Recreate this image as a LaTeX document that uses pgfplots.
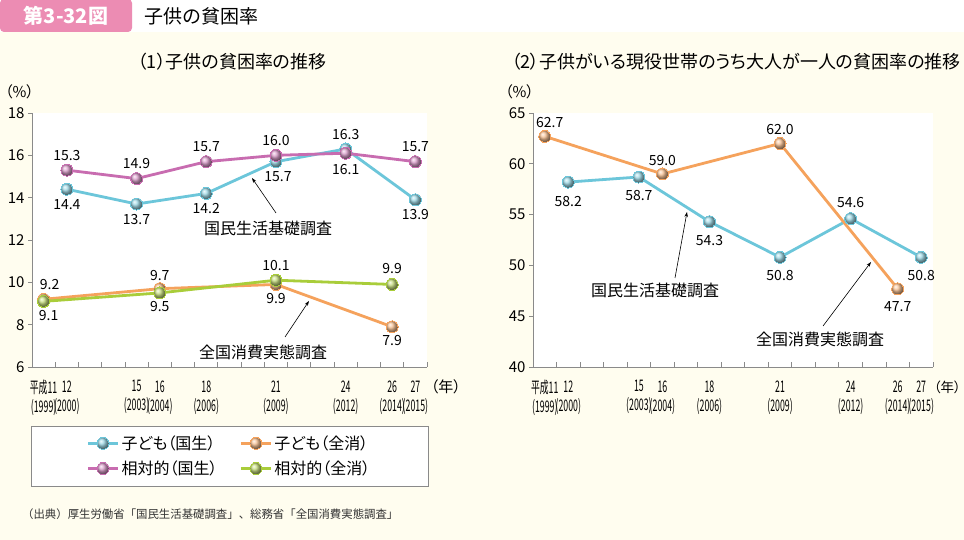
\documentclass[border=0pt]{standalone}
\usepackage{fontspec}
\setmainfont{Noto Sans CJK JP}[RawFeature={+palt}]
\newfontfamily\jpmono{Noto Sans CJK JP}
\usepackage{graphicx}
\usepackage{pgfplots}
\pgfplotsset{compat=1.18}
\usetikzlibrary{arrows.meta}
\definecolor{cream}{HTML}{FFFDEF}
\definecolor{pinkhdr}{HTML}{EC8CB3}
\definecolor{cC}{HTML}{6CC6DA}
\definecolor{cO}{HTML}{F5A25C}
\definecolor{cM}{HTML}{C86CB0}
\definecolor{cG}{HTML}{A9CD3A}
\definecolor{axg}{HTML}{8A8A8A}
\newcommand\fs[1]{\fontsize{#1}{#1}\selectfont}
\newcommand\cx[1]{\scalebox{0.55}[1]{#1}}
\tikzset{lab/.style={font=\fs{14}, inner sep=0pt}}
\pgfplotsset{
 panel/.style={scale only axis, height=254pt, xmin=1998.5, xmax=2015.5,
  axis x line*=bottom, axis y line*=left,
  axis line style={axg, line width=0.8pt, -},
  axis background/.style={fill=white},
  tick align=outside, major tick length=4pt, tick style={axg, line width=0.8pt},
  major x tick style={draw=none},
  xtick={1999,2000,2003,2004,2006,2009,2012,2014,2015},
  xticklabels={{\cx{平成11}\\\cx{(1999)}},{\cx{12}\\\cx{(2000)}},{\cx{15}\\\cx{(2003)}},{\cx{16}\\\cx{(2004)}},{\cx{18}\\\cx{(2006)}},{\cx{21}\\\cx{(2009)}},{\cx{24}\\\cx{(2012)}},{\cx{26}\\\cx{(2014)}},{\cx{27}\\\cx{(2015)}}},
  xticklabel style={align=center, font=\fontsize{16}{19}\selectfont, yshift=-6pt, inner xsep=0pt},
  yticklabel style={font=\fs{15}},
  /pgf/number format/assume math mode=true,
  clip=false,
 },
 ser/.style={line width=2.8pt, color=#1, mark=ball, mark size=6pt, mark options={ball color=#1!65!white, line width=0pt}},
}
\begin{document}
\begin{tikzpicture}
\path[use as bounding box] (0pt,0pt) rectangle (964pt,540pt);
\fill[white] (0pt,508pt) rectangle (964pt,540pt);
\fill[cream] (0pt,0pt) rectangle (964pt,508pt);
\fill[pinkhdr, rounded corners=4pt] (0pt,508pt) rectangle (132pt,541pt);
\node[white, font=\fs{20}\bfseries] at (66pt,524pt) {第3-32図};
\node[anchor=west, font=\jpmono\fs{19}, inner sep=0pt] at (144pt,524pt) {子供の貧困率};
\node[font=\fs{18}] at (232pt,478pt) {（1）子供の貧困率の推移};
\node[anchor=west, font=\fs{18}] at (508pt,478pt) {（2）子供がいる現役世帯のうち大人が一人の貧困率の推移};
\node[font=\fs{15}, anchor=west, inner sep=0pt] at (5pt,448pt) {（\%）};
\node[font=\fs{15}, anchor=west, inner sep=0pt] at (505pt,448pt) {（\%）};
\node[font=\fs{15}, anchor=east, inner sep=0pt] at (461pt,153pt) {（年）};
\node[font=\fs{13.5}, anchor=east, inner sep=0pt] at (961pt,153pt) {（年）};
\draw[axg, line width=0.8pt, fill=white] (31pt,54pt) rectangle (428pt,114pt);
\node[anchor=west, font=\jpmono\fs{11.4}, text=black!80, inner sep=0pt] at (22pt,26pt) {（出典）厚生労働省「国民生活基礎調査」、総務省「全国消費実態調査」};

\begin{axis}[panel, at={(32pt,173pt)}, anchor=south west, width=395pt,
  ymin=6, ymax=18, ytick={6,8,...,18},
  legend columns=2, legend cell align=left,
  legend style={draw=none, fill=none, at={(0.5,-0.35)}, anchor=center, font=\fs{16},
    /tikz/every even column/.append style={column sep=20pt}, row sep=6pt},
  legend image code/.code={\draw[mark repeat=2,mark phase=2,#1] plot coordinates {(0pt,0pt)(15pt,0pt)(30pt,0pt)};},
]
\addplot[ser=cC] coordinates {(2000,14.4)(2003,13.7)(2006,14.2)(2009,15.7)(2012,16.3)(2015,13.9)};
\addlegendentry{子ども（国生）}
\addplot[ser=cO] coordinates {(1999,9.2)(2004,9.7)(2009,9.9)(2014,7.9)};
\addlegendentry{子ども（全消）}
\addplot[ser=cM] coordinates {(2000,15.3)(2003,14.9)(2006,15.7)(2009,16.0)(2012,16.1)(2015,15.7)};
\addlegendentry{相対的（国生）}
\addplot[ser=cG] coordinates {(1999,9.1)(2004,9.5)(2009,10.1)(2014,9.9)};
\addlegendentry{相対的（全消）}
\pgfplotsinvokeforeach{1999.5,2000.5,...,2015.5}{\draw[axg, line width=0.8pt] (axis cs:#1,6) -- ([yshift=5pt]axis cs:#1,6);}
% labels
\node[lab, yshift=-15pt] at (axis cs:2000,14.4) {14.4};
\node[lab, yshift=-15pt] at (axis cs:2003,13.7) {13.7};
\node[lab, yshift=-15pt] at (axis cs:2006,14.2) {14.2};
\node[lab, yshift=-15pt, xshift=2pt] at (axis cs:2009,15.7) {15.7};
\node[lab, yshift=14pt] at (axis cs:2012,16.3) {16.3};
\node[lab, yshift=-15pt] at (axis cs:2015,13.9) {13.9};
\node[lab, yshift=15pt] at (axis cs:2000,15.3) {15.3};
\node[lab, yshift=15pt] at (axis cs:2003,14.9) {14.9};
\node[lab, yshift=15pt] at (axis cs:2006,15.7) {15.7};
\node[lab, yshift=15pt] at (axis cs:2009,16.0) {16.0};
\node[lab, yshift=-16pt] at (axis cs:2012,16.1) {16.1};
\node[lab, yshift=15pt] at (axis cs:2015,15.7) {15.7};
\node[lab, yshift=15pt, xshift=6pt] at (axis cs:1999,9.2) {9.2};
\node[lab, yshift=13pt] at (axis cs:2004,9.7) {9.7};
\node[lab, yshift=-14pt] at (axis cs:2009,9.9) {9.9};
\node[lab, yshift=-14pt] at (axis cs:2014,7.9) {7.9};
\node[lab, yshift=-14pt, xshift=5pt] at (axis cs:1999,9.1) {9.1};
\node[lab, yshift=-14pt] at (axis cs:2004,9.5) {9.5};
\node[lab, yshift=15pt] at (axis cs:2009,10.1) {10.1};
\node[lab, yshift=16pt] at (axis cs:2014,9.9) {9.9};
\end{axis}

\begin{axis}[panel, at={(533pt,173pt)}, anchor=south west, width=400pt,
  ymin=40, ymax=65, ytick={40,45,...,65}]
\addplot[ser=cC] coordinates {(2000,58.2)(2003,58.7)(2006,54.3)(2009,50.8)(2012,54.6)(2015,50.8)};
\addplot[ser=cO] coordinates {(1999,62.7)(2004,59.0)(2009,62.0)(2014,47.7)};
\pgfplotsinvokeforeach{1999.5,2000.5,...,2015.5}{\draw[axg, line width=0.8pt] (axis cs:#1,40) -- ([yshift=5pt]axis cs:#1,40);}
\node[lab, yshift=-19pt] at (axis cs:2000,58.2) {58.2};
\node[lab, yshift=-19pt] at (axis cs:2003,58.7) {58.7};
\node[lab, yshift=-19pt] at (axis cs:2006,54.3) {54.3};
\node[lab, yshift=-18pt] at (axis cs:2009,50.8) {50.8};
\node[lab, yshift=16pt] at (axis cs:2012,54.6) {54.6};
\node[lab, yshift=-18pt] at (axis cs:2015,50.8) {50.8};
\node[lab, yshift=14pt, xshift=5pt] at (axis cs:1999,62.7) {62.7};
\node[lab, yshift=13pt] at (axis cs:2004,59.0) {59.0};
\node[lab, yshift=14pt] at (axis cs:2009,62.0) {62.0};
\node[lab, yshift=-18pt] at (axis cs:2014,47.7) {47.7};
\end{axis}

% annotations
\node[font=\fs{16}] at (268pt,312pt) {国民生活基礎調査};
\draw[-{Stealth[length=5pt,width=3.5pt]}, line width=0.6pt] (276pt,327pt) -- (252pt,362pt);
\node[font=\fs{16}] at (263pt,188pt) {全国消費実態調査};
\draw[-{Stealth[length=5pt,width=3.5pt]}, line width=0.6pt] (285pt,203pt) -- (309pt,239pt);
\node[font=\fs{16}] at (655pt,250pt) {国民生活基礎調査};
\draw[-{Stealth[length=5pt,width=3.5pt]}, line width=0.6pt] (675pt,262pt) -- (687pt,328pt);
\node[font=\fs{16}] at (820pt,201pt) {全国消費実態調査};
\draw[-{Stealth[length=5pt,width=3.5pt]}, line width=0.6pt] (823pt,214pt) -- (871pt,278pt);
\end{tikzpicture}
\end{document}
